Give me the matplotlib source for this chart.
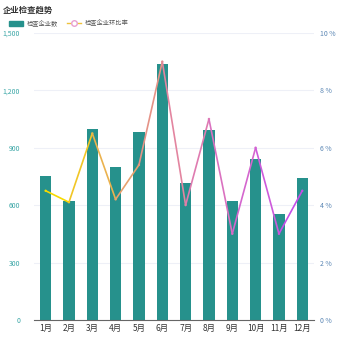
import matplotlib.pyplot as plt
import numpy as np
from matplotlib.collections import LineCollection
from matplotlib.colors import LinearSegmentedColormap
from matplotlib.lines import Line2D
from matplotlib.patches import Patch

plt.rcParams['font.family'] = ['Noto Sans CJK SC', 'DejaVu Sans']

months = ['1月', '2月', '3月', '4月', '5月', '6月', '7月', '8月', '9月', '10月', '11月', '12月']
counts = [750, 620, 1000, 800, 980, 1340, 715, 990, 620, 840, 555, 740]
rates = [4.5, 4.1, 6.5, 4.2, 5.4, 9.0, 4.0, 7.0, 3.0, 6.0, 3.0, 4.5]

bar_color = '#26918c'
grad = LinearSegmentedColormap.from_list(
    'g', ['#f7da00', '#e8a862', '#e385a0', '#d86cc8', '#c64ee8'])

fig = plt.figure(figsize=(3.5, 3.5), dpi=100)
ax = fig.add_axes([0.097, 0.086, 0.8, 0.82])
ax2 = ax.twinx()

x = np.arange(len(months))
ax.bar(x, counts, width=0.48, color=bar_color, zorder=2)
ax.set_xlim(-0.5, len(months) - 0.5)
ax.set_ylim(0, 1500)
ax.set_yticks([0, 300, 600, 900, 1200, 1500])
ax.set_yticklabels(['0', '300', '600', '900', '1,200', '1,500'])
ax.grid(axis='y', color='#eef0f7', linewidth=0.8, zorder=0)
ax.set_xticks(x)
ax.set_xticklabels(months, fontsize=6, color='#333333')
ax.tick_params(axis='y', length=0, labelsize=5, labelcolor='#3aa6a6', pad=10)
ax.tick_params(axis='x', length=0, pad=3)
for s in ['top', 'right', 'left']:
    ax.spines[s].set_visible(False)
ax.spines['bottom'].set_color('#666666')
ax.spines['bottom'].set_linewidth(0.8)

ax2.set_ylim(0, 10)
ax2.set_yticks([0, 2, 4, 6, 8, 10])
ax2.set_yticklabels([f'{v} %' for v in [0, 2, 4, 6, 8, 10]])
ax2.tick_params(axis='y', length=0, labelsize=5, labelcolor='#5a86b4', pad=4)
for s in ax2.spines.values():
    s.set_visible(False)

pts = np.column_stack([x, rates])
segs = np.stack([pts[:-1], pts[1:]], axis=1)
lc = LineCollection(segs, colors=grad(np.linspace(0, 1, len(segs))), linewidth=1.2, zorder=3)
ax2.add_collection(lc)
ax2.scatter(x, rates, s=3, c=grad(np.linspace(0, 1, len(x))), zorder=4, edgecolors='none')

fig.text(0.008, 0.985, '企业检查趋势', fontsize=6, fontweight='bold', color='#333333', va='top')
handles = [Patch(color=bar_color),
           Line2D([0], [0], color='#efc23c', marker='o', markersize=4,
                  markerfacecolor='white', markeredgecolor='#e9a0d0', linewidth=1)]
fig.legend(handles, ['检查企业数', '检查企业环比率'], loc='upper left',
           bbox_to_anchor=(0.01, 0.96), ncol=2, frameon=False, fontsize=4.5,
           handlelength=2.2, handleheight=0.8, columnspacing=1.5, handletextpad=0.6,
           labelcolor='#555555')

fig.savefig('out.png', dpi=100)
